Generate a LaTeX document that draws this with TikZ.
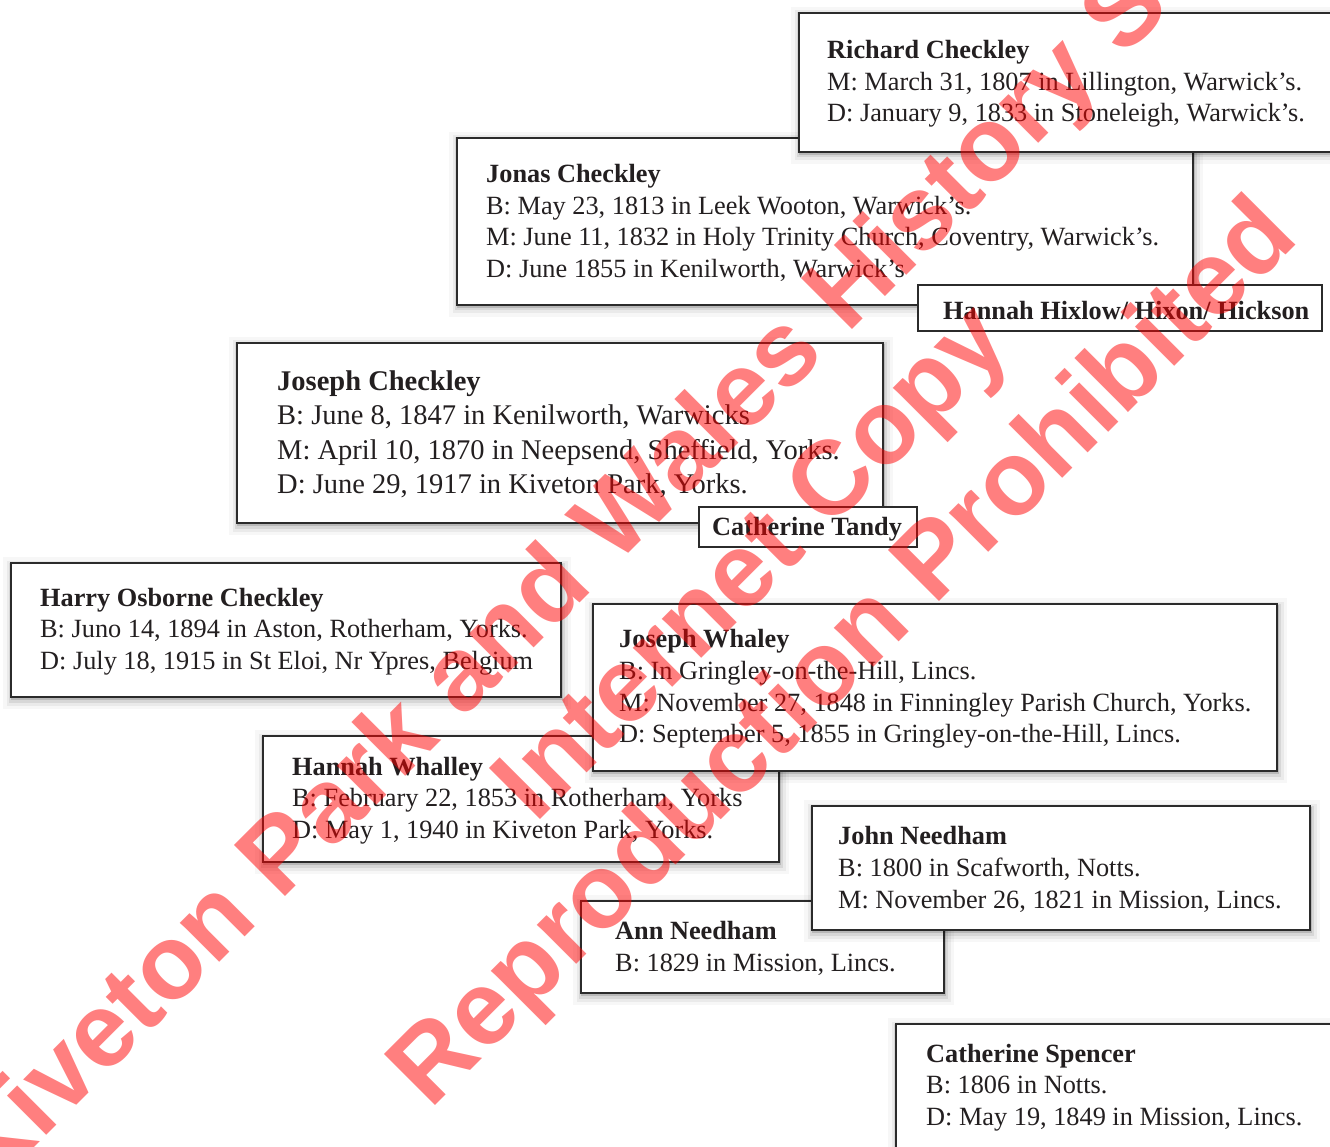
\documentclass[tikz,border=0pt]{standalone}
\usepackage{fontspec}
\setmainfont{Liberation Serif}
\newfontfamily\wmfont{Liberation Sans}
\usetikzlibrary{shadows,calc}
\pgfdeclarelayer{background}
\pgfsetlayers{background,main}
\definecolor{ink}{HTML}{231F20}
\definecolor{edge}{HTML}{2B2B2B}
\tikzset{
  softshadow/.style={
    general shadow={draw=black, line width=18pt, draw opacity=0.03, shadow xshift=1pt, shadow yshift=-3pt},
    general shadow={draw=black, line width=11pt, draw opacity=0.05, shadow xshift=1pt, shadow yshift=-3pt},
    general shadow={draw=black, line width=6pt, draw opacity=0.08, shadow xshift=1pt, shadow yshift=-2.5pt},
    general shadow={draw=black, line width=2.5pt, draw opacity=0.14, shadow xshift=1pt, shadow yshift=-2pt}},
  person/.style={draw=edge, line width=1.6pt, fill=white, anchor=north west, inner sep=0pt, outer sep=0pt, softshadow},
  spouse/.style={draw=edge, line width=1.1pt, fill=white, anchor=north west, inner sep=0pt, outer sep=0pt},
  txt/.style={anchor=west, align=left, inner sep=0pt, text=ink, yshift=-1.5pt, font=\fontsize{26.3}{31.7}\selectfont},
  bigtxt/.style={txt, font=\fontsize{28.5}{34.4}\selectfont},
  link/.style={draw=edge, line width=1.2pt},
  wm/.style={rotate=45, anchor=base, inner sep=0pt, text=red, text opacity=0.5, font=\wmfont\bfseries\fontsize{105}{126}\selectfont}
}
\begin{document}
\begin{tikzpicture}[x=1pt, y=-1pt]
\useasboundingbox (0,0) rectangle (1330,1147);
\fill[white] (0,0) rectangle (1330,1147);

% Jonas Checkley
\node[person, minimum width=736pt, minimum height=167pt] (jonas) at (457,138) {};
\node[txt] (jonas-t) at ([xshift=29pt]jonas.west) {\textbf{Jonas Checkley}\\B: May 23, 1813 in Leek Wooton, Warwick’s.\\M: June 11, 1832 in Holy Trinity Church, Coventry, Warwick’s.\\D: June 1855 in Kenilworth, Warwick’s};

% Richard Checkley
\node[person, minimum width=545pt, minimum height=139pt] (richard) at (799,13) {};
\node[txt] (richard-t) at ([xshift=28pt]richard.west) {\textbf{Richard Checkley}\\M: March 31, 1807 in Lillington, Warwick’s.\\D: January 9, 1833 in Stoneleigh, Warwick’s.};

% Hannah Hixlow
\node[spouse, minimum width=404pt, minimum height=46pt] (hixlow) at (918,285) {};
\node[txt, yshift=-1pt] (hixlow-t) at ([xshift=25pt]hixlow.west) {\textbf{Hannah Hixlow/ Hixon/ Hickson}};

% Joseph Checkley
\node[person, minimum width=646pt, minimum height=180pt] (josephc) at (237,343) {};
\node[bigtxt] (josephc-t) at ([xshift=40pt]josephc.west) {\textbf{Joseph Checkley}\\B: June 8, 1847 in Kenilworth, Warwicks\\M: April 10, 1870 in Neepsend, Sheffield, Yorks.\\D: June 29, 1917 in Kiveton Park, Yorks.};

% Catherine Tandy
\node[spouse, minimum width=218pt, minimum height=40pt] (tandy) at (699,507) {};
\node[txt, yshift=-1pt] (tandy-t) at ([xshift=13pt]tandy.west) {\textbf{Catherine Tandy}};

% Harry Osborne Checkley
\node[person, minimum width=550pt, minimum height=134pt] (harry) at (11,563) {};
\node[txt] (harry-t) at ([xshift=29pt]harry.west) {\textbf{Harry Osborne Checkley}\\B: Juno 14, 1894 in Aston, Rotherham, Yorks.\\D: July 18, 1915 in St Eloi, Nr Ypres, Belgium};

% Hannah Whalley
\node[person, minimum width=516pt, minimum height=126pt] (hannahw) at (263,736) {};
\node[txt] (hannahw-t) at ([xshift=29pt]hannahw.west) {\textbf{Hannah Whalley}\\B: February 22, 1853 in Rotherham, Yorks\\D: May 1, 1940 in Kiveton Park, Yorks.};

% Joseph Whaley
\node[person, minimum width=684pt, minimum height=167pt] (josephw) at (593,604) {};
\node[txt] (josephw-t) at ([xshift=26pt]josephw.west) {\textbf{Joseph Whaley}\\B: In Gringley-on-the-Hill, Lincs.\\M: November 27, 1848 in Finningley Parish Church, Yorks.\\D: September 5, 1855 in Gringley-on-the-Hill, Lincs.};

% Ann Needham
\node[person, minimum width=363pt, minimum height=92pt] (ann) at (581,901) {};
\node[txt] (ann-t) at ([xshift=34pt]ann.west) {\textbf{Ann Needham}\\B: 1829 in Mission, Lincs.};

% John Needham
\node[person, minimum width=498pt, minimum height=124pt] (john) at (812,806) {};
\node[txt] (john-t) at ([xshift=26pt]john.west) {\textbf{John Needham}\\B: 1800 in Scafworth, Notts.\\M: November 26, 1821 in Mission, Lincs.};

% Catherine Spencer
\node[person, minimum width=450pt, minimum height=124pt] (spencer) at (896,1024) {};
\node[txt] (spencer-t) at ([xshift=30pt]spencer.west) {\textbf{Catherine Spencer}\\B: 1806 in Notts.\\D: May 19, 1849 in Mission, Lincs.};

% connectors
\begin{pgfonlayer}{background}
\draw[link] ($(jonas.north west)+(0,84)$) -| ($(josephc.north west)+(108,0)$);
\draw[link] ($(josephc.north west)+(0,86)$) -| ($(harry.north west)+(108,0)$);
\draw[link] ($(harry.south west)+(105,0)$) |- ($(hannahw.north west)+(0,74)$);
\draw[link] ($(hannahw.south west)+(82,0)$) |- ($(ann.north west)+(0,54)$);
\end{pgfonlayer}

% watermark
\node[wm] (wm1) at (688,494) {Kiveton Park and Wales History Society};
\node[wm] (wm2) at (775,585) {Internet Copy};
\node[wm] (wm3) at (866,675) {Reproduction Prohibited};
\end{tikzpicture}
\end{document}
